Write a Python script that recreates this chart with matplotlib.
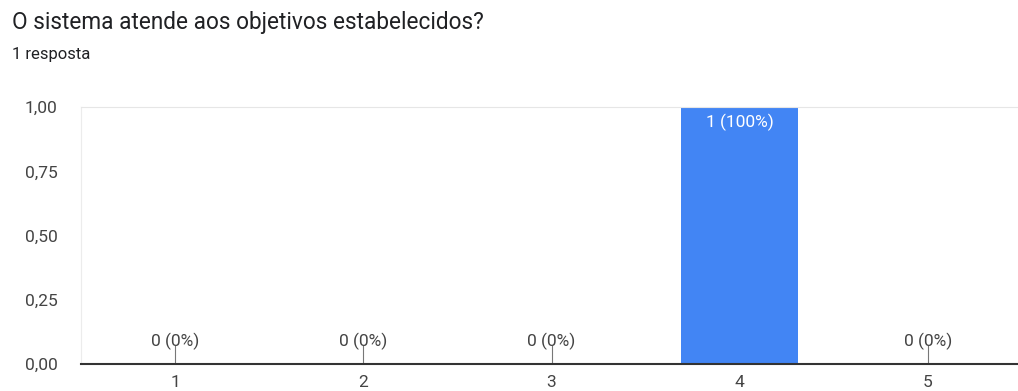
import matplotlib.pyplot as plt

categories = ["1", "2", "3", "4", "5"]
counts = [0, 0, 0, 1, 0]
total = 1
yticks = [0, 0.25, 0.5, 0.75, 1.0]
ytick_labels = ["0,00", "0,25", "0,50", "0,75", "1,00"]

plt.rcParams['font.family'] = ['Roboto', 'DejaVu Sans']

fig = plt.figure(figsize=(10.18, 3.91), dpi=100)
ax = fig.add_axes([0.0796, 0.069, 0.9244, 0.657])

x = list(range(1, len(categories) + 1))
ax.bar(x, counts, width=0.62, color='#4285f4', zorder=2)

ax.set_xlim(0.5, 5.5)
ax.set_ylim(0, 1.0)
ax.set_xticks(x)
ax.set_xticklabels(categories)
ax.set_yticks(yticks)
ax.set_yticklabels(ytick_labels)
ax.tick_params(axis='both', length=0, labelsize=12.5, colors='#444444')
ax.tick_params(axis='x', pad=8)
ax.tick_params(axis='y', pad=17)

ax.spines['right'].set_visible(False)
ax.spines['top'].set_color('#e6e6e6')
ax.spines['left'].set_color('#ececec')
ax.spines['bottom'].set_color('#333333')
ax.spines['bottom'].set_linewidth(1.5)
ax.spines['bottom'].set_zorder(3)

for xi, c in zip(x, counts):
    label = f"{c} ({c / total * 100:.0f}%)"
    if c == 0:
        ax.plot([xi, xi], [0, 0.07], color='#777777', lw=0.8, zorder=2)
        ax.text(xi, 0.09, label, ha='center', va='center', fontsize=12.5, color='#444444')
    else:
        ax.text(xi, c - 0.058, label, ha='center', va='center', fontsize=12.5, color='white')

fig.text(0.0118, 0.942, "O sistema atende aos objetivos estabelecidos?", fontsize=16.3,
         color='#202124', ha='left', va='center')
fig.text(0.0118, 0.86, "1 resposta", fontsize=12, color='#202124', ha='left', va='center')

fig.savefig('out.png', dpi=100)
